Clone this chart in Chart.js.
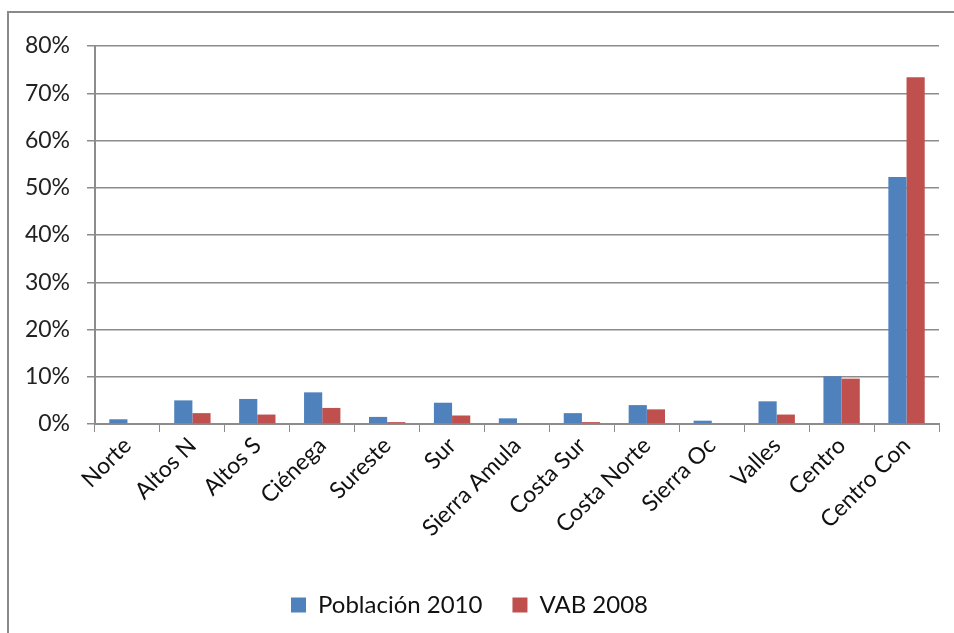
<!DOCTYPE html>
<html>
<head>
<meta charset="utf-8">
<script src="https://cdn.jsdelivr.net/npm/chart.js@4"></script>
<style>
  html, body { margin: 0; padding: 0; background: #fff; }
  #wrap { position: relative; width: 954px; height: 633px; overflow: hidden; }
  #frame { position: absolute; left: 7px; top: 11px; width: 1000px; height: 700px;
           border-left: 2px solid #8a8a8a; border-top: 2px solid #8a8a8a; }
  canvas { position: absolute; left: 0; top: 0; }
</style>
</head>
<body>
<div id="wrap">
  <div id="frame"></div>
  <canvas id="chart" width="954" height="633"></canvas>
</div>
<script>
const regions = ['Norte','Altos N','Altos S','Ciénega','Sureste','Sur','Sierra Amula','Costa Sur','Costa Norte','Sierra Oc','Valles','Centro','Centro Con'];
const poblacion2010 = [1.0, 5.0, 5.3, 6.7, 1.5, 4.5, 1.2, 2.3, 4.0, 0.7, 4.8, 10.1, 52.3];
const vab2008 = [0, 2.3, 2.0, 3.4, 0.4, 1.8, 0, 0.4, 3.1, 0, 2.0, 9.6, 73.4];

const font = 'Lato, "Open Sans", "DejaVu Sans", sans-serif';
const axisGrey = '#8c8c8c';

new Chart(document.getElementById('chart'), {
  type: 'bar',
  data: {
    labels: regions,
    datasets: [
      { label: 'Población 2010', data: poblacion2010, backgroundColor: '#4f81bd' },
      { label: 'VAB 2008', data: vab2008, backgroundColor: '#c0504d' },
    ],
  },
  options: {
    responsive: false, animation: false,
    layout: { padding: { left: 0, right: 15, top: 46, bottom: 6 } },
    datasets: { bar: { categoryPercentage: 0.56, barPercentage: 1 } },
    plugins: {
      legend: {
        position: 'bottom',
        labels: {
          font: { family: font, size: 24 }, color: '#111', boxWidth: 15, boxHeight: 15, padding: 12,
          // wider gap between the two entries, as in the original
          generateLabels: (chart) => Chart.defaults.plugins.legend.labels.generateLabels(chart)
            .map((l, i) => i === 0 ? { ...l, text: l.text + '\u2003' } : l),
        },
      },
      tooltip: { enabled: false },
    },
    scales: {
      x: {
        grid: { drawOnChartArea: false, drawTicks: true, tickLength: 8, color: axisGrey },
        border: { color: axisGrey, width: 2 },
        ticks: { font: { family: font, size: 23 }, color: '#111', minRotation: 45, maxRotation: 45, padding: 0 },
        afterFit: (s) => { s.height = 157; },
      },
      y: {
        min: 0, max: 80,
        grid: { color: axisGrey, lineWidth: 1.5, tickLength: 8 },
        border: { color: axisGrey, width: 2 },
        ticks: { stepSize: 10, font: { family: font, size: 23 }, color: '#222', padding: 17,
                 callback: (v) => v + '%' },
        afterFit: (s) => { s.width = 95; },
      },
    },
  },
});
</script>
</body>
</html>
